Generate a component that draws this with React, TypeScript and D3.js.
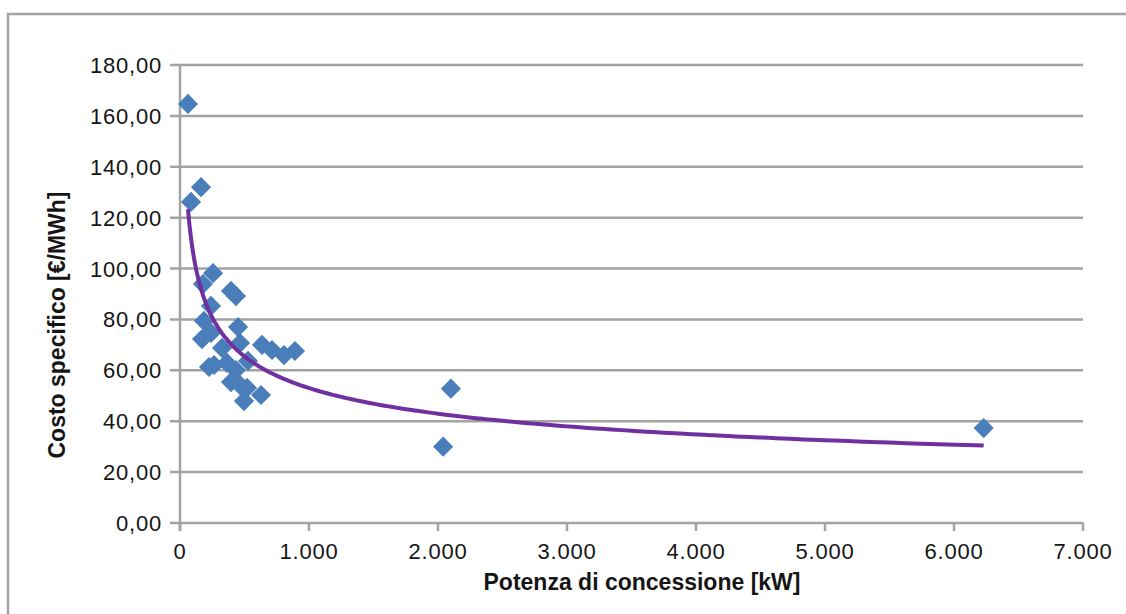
import * as d3 from "d3";

// Potenza di concessione [kW]
const potenza = [
  62, 163, 85, 256, 178, 395, 434, 240, 186, 450, 171, 240, 326, 465, 636, 713,
  806, 891, 225, 264, 364, 434, 527, 395, 465, 496, 628, 519, 2040, 2100, 6230,
];
// Costo specifico [€/MWh]
const costo = [
  164.7, 132.0, 126.2, 98.2, 93.9, 91.2, 89.2, 85.3, 79.4, 77.0, 72.3, 74.7, 68.8, 70.7, 70.0, 68.0,
  66.0, 67.6, 61.3, 62.1, 62.9, 60.1, 63.7, 55.4, 54.2, 47.9, 50.3, 53.1, 30.0, 52.8, 37.3,
];

const xTicks = [0, 1000, 2000, 3000, 4000, 5000, 6000, 7000];
const yTicks = [0, 20, 40, 60, 80, 100, 120, 140, 160, 180];

const width = 1126;
const height = 614;
const plotLeft = 180;
const plotRight = 1083;
const plotTop = 65;
const plotBottom = 523;

const gridColor = "#a3a3a3";
const textColor = "#151515";
const font = "'Liberation Sans', Arial, Helvetica, sans-serif";

const itNum = (d: number, decimals: number) => {
  const s = d.toFixed(decimals);
  const [int, dec] = s.split(".");
  const grouped = int.replace(/\B(?=(\d{3})+(?!\d))/g, ".");
  return dec ? `${grouped},${dec}` : grouped;
};

export default function App() {
  const x = d3.scaleLinear().domain([0, 7000]).range([plotLeft, plotRight]);
  const y = d3.scaleLinear().domain([0, 180]).range([plotBottom, plotTop]);

  const points = potenza.map((p, i) => ({ p, c: costo[i] }));

  // power trendline fitted on the data (least squares on logs)
  const lx = points.map((d) => Math.log(d.p));
  const ly = points.map((d) => Math.log(d.c));
  const mx = d3.mean(lx) as number;
  const my = d3.mean(ly) as number;
  const b = d3.sum(lx, (v, i) => (v - mx) * (ly[i] - my)) / d3.sum(lx, (v) => (v - mx) ** 2);
  const a = Math.exp(my - b * mx);
  const [minP, maxP] = d3.extent(potenza) as [number, number];
  const trend = d3.range(0, 201).map((i) => {
    const p = minP * Math.pow(maxP / minP, i / 200);
    return [p, a * Math.pow(p, b)] as [number, number];
  });
  const line = d3
    .line<[number, number]>()
    .x((d) => x(d[0]))
    .y((d) => y(d[1]))
    .curve(d3.curveMonotoneX);

  const diamond = d3.symbol().type(d3.symbolDiamond2).size(260)();

  return (
    <svg
      width={width}
      height={height}
      style={{ position: "absolute", left: 0, top: 0, background: "#fff" }}
      fontFamily={font}
    >
      <rect x={8} y={14} width={1140} height={620} fill="#fff" stroke={gridColor} strokeWidth={2.5} />

      {/* horizontal gridlines */}
      {yTicks.map((t) => (
        <g key={t}>
          <line x1={170} x2={plotRight} y1={y(t)} y2={y(t)} stroke={gridColor} strokeWidth={2.5} />
          <text x={162} y={y(t) + 8} textAnchor="end" fontSize={22} letterSpacing={0.8} fill={textColor}>
            {itNum(t, 2)}
          </text>
        </g>
      ))}

      {/* y axis */}
      <line x1={plotLeft} x2={plotLeft} y1={plotTop} y2={plotBottom + 8} stroke={gridColor} strokeWidth={2.5} />

      {/* x ticks */}
      {xTicks.map((t) => (
        <g key={t}>
          <line x1={x(t)} x2={x(t)} y1={plotBottom} y2={plotBottom + 8} stroke={gridColor} strokeWidth={2.5} />
          <text x={x(t)} y={559} textAnchor="middle" fontSize={22} letterSpacing={0.8} fill={textColor}>
            {itNum(t, 0)}
          </text>
        </g>
      ))}

      {/* points */}
      {points.map((d, i) => (
        <path key={i} d={diamond as string} transform={`translate(${x(d.p)},${y(d.c)})`} fill="#4a7ebb" />
      ))}

      {/* trendline */}
      <path d={line(trend) as string} fill="none" stroke="#7030a0" strokeWidth={4} />

      {/* axis titles */}
      <text x={642} y={590} textAnchor="middle" fontSize={23} fontWeight="bold" fill={textColor}>
        Potenza di concessione [kW]
      </text>
      <text
        transform={`translate(65,325) rotate(-90)`}
        textAnchor="middle"
        fontSize={23}
        fontWeight="bold"
        fill={textColor}
      >
        Costo specifico [€/MWh]
      </text>
    </svg>
  );
}
